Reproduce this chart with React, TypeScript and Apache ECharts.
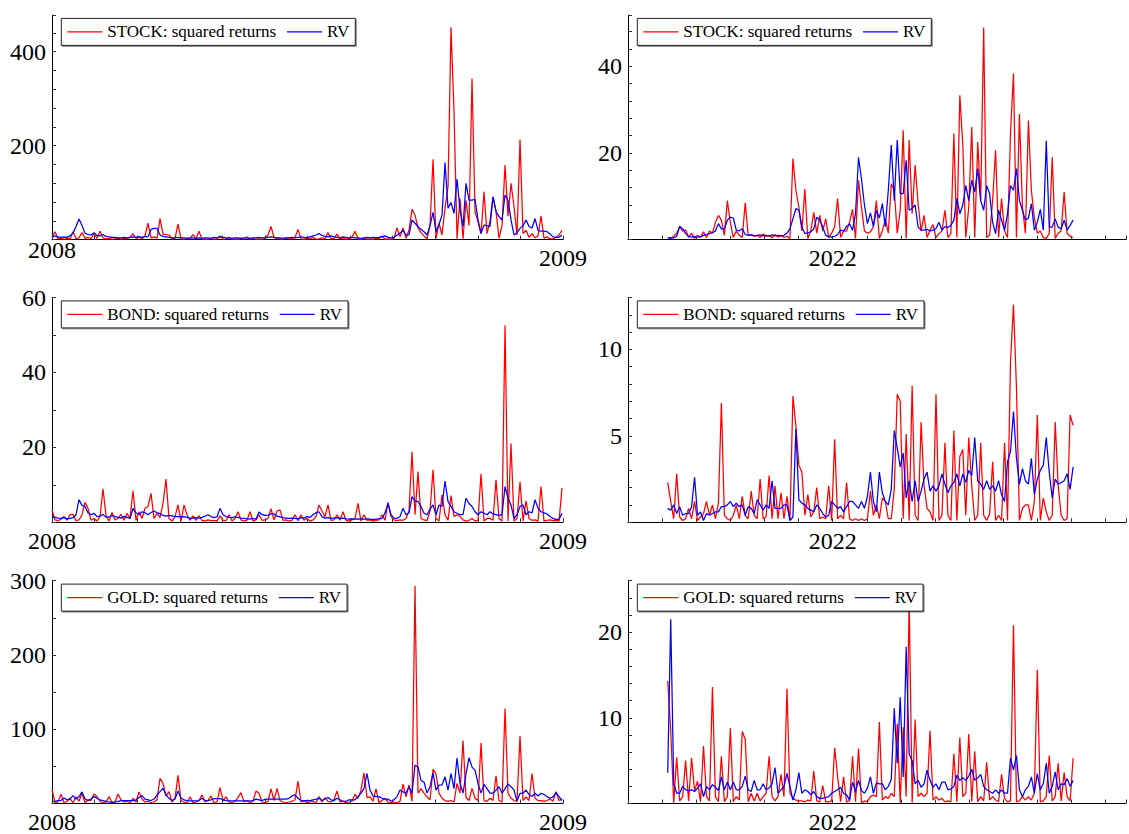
import React, { useEffect, useRef } from "react";
import * as echarts from "echarts";

// ---------- DATA ----------
// 2008 panels: trading year Jan-2008 .. Dec-2008 (sampled)
const stock2008Sq = [5,17,2,4,1,3,2,17,2,4,15,3,5,2,13,3,18,4,2,3,1,2,4,1,3,2,5,13,3,6,2,8,35,4,6,3,45,12,11,10,2,3,33,2,1,3,2,11,2,18,1,2,1,3,1,2,8,1,2,5,1,2,1,3,1,6,1,3,1,2,1,3,10,28,5,3,2,1,4,2,3,5,22,2,1,3,2,5,1,2,4,2,15,2,3,12,2,4,1,3,5,18,2,1,3,1,2,1,3,2,8,1,2,1,3,25,6,25,3,20,65,52,25,15,8,2,30,171,3,35,10,67,113,452,272,2,88,2,84,30,343,60,38,13,102,13,40,91,60,3,30,159,50,120,70,10,213,13,20,5,13,4,8,50,3,6,2,2,5,10,20];
const stock2008RV = [5,8,6,5,6,5,8,14,28,44,30,14,11,10,15,9,8,11,7,6,5,5,4,4,5,4,5,6,5,6,5,7,6,22,24,24,10,7,6,5,4,4,5,4,4,3,4,4,3,4,3,4,4,3,5,4,6,5,4,4,3,4,4,3,4,4,3,4,4,5,4,4,5,6,5,4,4,3,4,4,5,4,5,6,5,4,6,8,10,13,9,7,6,8,6,5,4,6,5,4,5,4,4,3,4,5,4,5,4,5,6,8,5,4,5,10,14,20,10,10,42,35,28,22,17,10,30,58,17,33,52,164,67,79,56,129,63,28,120,84,84,86,42,13,31,30,28,91,60,49,42,95,84,42,10,15,24,30,42,28,25,45,20,18,18,17,12,6,5,5,10];
const bond2008Sq = [3.3,0.6,0.4,0.8,1.5,0.5,2,2.1,0.4,0.6,2,5.3,3.7,0.5,1,0.3,1.5,8.9,1.8,0.3,2.6,0.6,1,2.1,0.5,2.4,1,8.4,0.5,2.8,1,3.7,4.2,7.7,1,2.4,1.2,5,11.5,1,0.3,1.5,4.6,0.3,4.6,2,0.5,1.7,0.5,1.8,0.5,0.3,0.6,0.4,0.5,0.3,1.7,0.5,0.4,2,0.3,1,2.8,0.6,0.3,0.5,2.8,0.3,0.6,2,0.5,0.6,1,3.6,0.6,3,3.3,0.5,0.6,0.3,0.5,2,0.4,2,0.5,1,0.3,0.6,1.5,4.6,3,1.5,4.6,0.5,0.6,2,0.5,2.8,0.5,0.3,0.6,1,5,0.3,2,0.5,0.6,0.3,0.5,0.6,2,0.5,5.3,1.5,0.6,0.4,0.6,0.5,1,3,18.8,2,13.5,1,0.6,0.4,3,14,1,0.3,7.3,2,0.5,7.1,1.5,2,1.5,0.6,0.3,0.5,1,0.3,0.5,12.9,0.3,1,1,0.5,11.3,1,0.3,52.6,0.3,21,0.3,1,10.8,0.3,5.7,1,0.5,0.6,0.3,9.5,0.3,0.5,0.6,0.4,0.5,0.3,9.1];
const bond2008RV = [1.5,1.3,1.1,1,1.2,0.9,1,1.2,2,6,4.5,4.2,2.5,2,2.4,1.5,1.6,2.1,1.3,1.4,1.8,1.5,1.3,1.1,1.5,1.3,1,3.7,2.5,2,2.8,2.5,2,2.6,3,2.5,2.3,1.8,1.6,1.8,1.7,1.5,1.5,1.4,1.5,1.3,1.1,1.1,1.2,1.1,1.3,1.6,2,1.5,1.2,1.4,3.7,2,1.5,1.3,1.2,1.4,1.3,1.1,1,0.9,0.8,1,0.8,2.7,2,1.8,1.9,2.2,2.2,1.6,1.4,1.2,1.1,1,1.1,1,0.9,1.2,1.1,1.5,1.3,2,2.5,2.8,1.5,1.1,1.2,1,1.1,1.2,1,1.1,0.9,0.8,0.9,0.8,0.9,0.8,0.8,0.9,0.8,0.7,0.8,0.9,1,2.5,5,2,1.1,1,1.5,3.7,2,2.5,6.8,5.7,5.5,4.2,2.4,2,3.5,4.6,2,4.6,4.2,11,5.5,4.2,2.8,2.4,2,2,6.4,5,4.2,2.8,2,2.8,2.4,2,2.8,2.2,2,1.8,2,9.5,6.4,4.6,1,2,4.2,4.6,2,2.8,2.5,6,3.7,2.8,2.5,2.2,1.5,1,0.7,0.8,2.4];
const gold2008Sq = [19,1,2,12.4,1,3,7,1,9,3,13.8,1,5,4,12.9,9,3,1,2,9.3,1,2,12.9,5,2,3,1,7,2,15.6,6,2,3,1,2,5,33.8,27,10,16,2,7,37.8,4,2,1,9,1,2,4,11.6,2,4,10.2,1,2,21.3,4,9,2,1,3,8,14.7,2,4,1,3,16.9,13.8,2,1,3,19.6,4,20.4,4,2,1,2,3,5,30,2,3,1,2,3,1,9.3,2,8,3,2,5,16.9,2,3,1,2,3,12.4,7,18,41.3,8,9,3,19.6,1,4,7,2,1,2,1,3,26.2,9,24.9,3,293,14,20,14,9,5,46.2,39.6,14,7,4,3,4,2,27,14,84.9,8,4,20.4,7,4,81.3,4,3,7,4,37.3,4,2,128,14,7,4,3,90.7,4,9,4,40.4,7,4,4,3,4,6,3,16,4,6];
const gold2008RV = [2.7,3,4,4,7.5,5,6,10.7,6,9,15.6,6,4,6,9.3,7,5,4,3,2,2,2,3,4,4,4,4,4,5,8,10.7,6,5,4,6,11.6,16,20.4,11.6,7,4,6,16.9,7,5,4,3.5,3.5,3.5,4,7,4,4,5,6.5,6.5,6.5,5,4,3.5,3.5,3.5,3.5,3.5,3.5,3.5,3.5,4,5.8,5,4,5.5,5.8,5.8,5.8,5.8,5.8,5.8,5.8,7,10.2,11.6,7,4,4,4,4,5,5.8,7,4,6,8,5,4,7,5,3,3,5,5,5,9.3,14,20.4,40.4,18,10,9.3,9.3,7,6,6,3,5,9.3,18.2,15.6,13.8,22.7,13.8,51.6,49.3,31,29,14,22.7,41.3,18,24.9,25,36,18,40.4,20,61.3,27,14,40,61.8,49,45,27,14,25.8,20,14,14,18,22.7,14,20,26.2,22.7,18,3.5,13.8,13.8,18.2,12,9.3,13.8,10,13.8,12,9.3,7,9,14.7,9.3,4];

// 2022 panels: Aug-2021 .. Jul-2022 (sampled)
const stock2022Sq = [0.5,0.3,0.8,1.5,3,2,2.3,0.5,1.5,0.3,1,0.5,1.8,0.5,2,1.5,4,5.6,4.5,1,9,4,0.5,2,1,0.5,8.5,1,1.2,0.8,1,0.5,1.3,0.8,1,0.4,1.2,0.6,1,0.5,0.8,0.3,18.7,11.4,7.5,2,11.7,0.3,2,6.3,1.5,5.6,2,4.8,0.5,1.5,3,9.5,0.5,2,2,4,7,0.3,13.7,7.5,2,1.5,1.8,3,9,0.3,2,4.8,1.5,12.9,11.4,1.5,6.8,25.2,0.3,23,6,17.2,8.3,2,5.6,0.5,2.2,3.5,0.5,1.4,2,6.8,0.5,1.4,24.5,0.5,33.3,21.8,0.5,7.5,26,0.5,22.5,9,48.9,0.5,1,9,20.6,0.5,9.5,2,0.5,24.5,38.3,0.5,29,7.5,1.5,27.5,11.4,5,1.5,2,0.5,0.3,1.5,19,0.3,1.5,2,11,1.5,0.8,0.5];
const stock2022RV = [0.4,0.5,0.4,0.8,3.1,2.5,1.4,0.8,0.6,0.7,0.6,0.7,1,1.2,1.4,1.6,2,3.7,2.5,2.5,4.5,5.2,5,2.2,2,2.5,1.2,1,1.1,0.9,1,1.1,0.9,1,0.8,1.1,0.9,1,0.9,1,1.5,2.5,4.8,7.2,6.8,3,1.4,1.6,1.8,2.5,5.2,4.5,3,1,0.7,0.6,0.8,1.2,2.2,2,3,3.7,2.2,6,19,14,8,3.7,6.2,3,6.8,5,8.3,3,11.4,21.8,9,23,10.6,10.6,18.3,6.8,7.2,8,2.9,2.2,2.2,2.4,2,2.2,2.6,4,2.2,3,2.8,3.3,4.5,9.5,6,8,12.5,9,13.7,11,16.4,9,6.8,12.5,10.6,4,1.4,6.8,4.5,2.2,6,12.5,11.4,16.4,9,6.8,4.5,5,8.3,2.2,4,7,2.2,22.8,2.9,2.9,4.8,2.9,2.5,4.5,2.2,3.3,4.5];
const bond2022Sq = [2.3,1.2,0.2,2.8,0.3,0.1,0.2,0.8,0.2,1.2,0.1,0.3,0.5,1.2,0.4,1,0.2,1.1,6.9,0.4,0.2,0.1,0.4,1,0.2,1.5,0.4,0.2,1.8,0.4,0.2,2.5,0.2,0.3,2.7,0.2,2.1,0.2,1.7,0.2,1.5,0.1,7.3,5.6,3.3,2.9,0.4,1.6,0.3,0.6,2,0.2,0.3,0.2,2.1,0.1,4.8,0.2,0.4,0.2,2.3,0.2,0.1,0.2,0.1,0.2,0.1,0.2,1.8,0.4,1,0.2,1.4,1.2,0.2,0.2,1.9,7.4,7,0.2,5.1,0.1,7.9,0.4,0.1,5.8,2.1,0.8,0.6,0.1,7.4,0.1,0.4,4.6,0.4,0.1,5.3,0.1,3.8,4.2,0.4,4.9,2.1,0.1,0.4,4.6,0.4,0.1,0.5,3.5,0.1,0.4,0.1,4.6,0.1,9.3,12.6,7.8,0.1,0.8,1,1,0.1,1.2,6.2,0.1,1.4,0.6,0.1,0.4,5.8,2.1,0.4,0.1,0.2,6.2,5.6];
const bond2022RV = [0.8,0.7,1,0.5,0.9,0.4,0.5,0.5,0.9,2.6,0.4,0.6,0.1,0.5,0.4,0.5,0.6,0.6,0.9,0.9,1,1.2,0.9,1.1,0.9,1,0.4,0.9,0.8,0.5,1.3,1,0.7,1,0.8,2.4,0.8,0.8,0.8,1,1,0.1,0.3,5.4,1.3,1.1,1,0.8,0.7,0.6,1,0.8,0.5,0.3,0.4,1.2,1,0.8,0.9,0.6,0.9,1.2,1.2,1,0.8,1.2,0.8,1.5,2.9,1.2,0.6,2.9,1.7,1.2,1,1.9,5.3,4.3,3.2,4,1.4,2.4,1.2,2.4,1.2,1.8,2.5,2.9,1.8,2.1,1.8,2.1,2.8,2.2,1.7,2.1,2.3,2.8,2.1,2.8,2.3,3,2.7,4.9,2.4,2.2,1.9,2.4,1.9,2.1,1.8,2.4,1.6,1.2,3.5,4.1,6.4,3.7,2.2,3.1,2.4,2.2,3.7,1.6,2.5,3,3.3,4.9,2.9,1.4,2.5,2.2,2.3,2.4,2.8,1.9,3.2];
const gold2022Sq = [14.3,8.5,0.1,5.4,0.3,0.8,5,0.3,5.3,1.5,2.6,0.2,6.7,0.8,0.3,13.6,0.8,0.2,5.5,0.2,0.8,8.8,0.2,0.8,0.4,8.4,7.5,0.2,1.2,0.3,1.2,0.3,0.8,1.2,5.5,0.8,0.3,0.8,3.4,0.8,13.4,1.2,0.6,0.4,0.3,0.3,0.2,0.4,0.3,3.8,0.3,0.2,2.1,0.2,0.2,0.3,6.5,3.1,0.2,3.1,0.2,0.3,5.5,0.2,6.4,0.1,0.3,0.2,0.8,1,0.8,9.5,0.4,0.8,0.6,1.2,0.8,9.3,0.1,8.9,0.8,23.9,0.1,9.8,0.8,1.2,0.8,1.2,8.5,0.4,0.8,0.4,0.6,0.2,0.3,0.2,5.8,0.2,7.7,0.8,1.2,8.1,0.2,6.1,0.2,0.8,0.3,4.8,0.4,0.8,0.4,0.2,3.4,0.6,0.2,0.3,20.8,0.2,0.3,0.8,0.4,0.8,0.4,1.2,15.6,0.2,0.3,0.8,5.6,0.3,0.8,4.7,0.3,3.6,0.8,0.3,5.3];
const gold2022RV = [3.6,21.5,2.3,1.2,1.2,2,1.6,1.5,1.6,1.4,1.8,2.3,0.8,2,1.6,2.2,1.9,1.5,3.1,1.6,2.5,1.6,2.5,1.6,1.6,2,3.2,1.6,1.4,2.7,1.6,1.6,2.3,1.6,1.8,2.3,4.2,1.2,1.6,2,3.5,2,0.4,1.6,3.6,1.2,1.6,1.4,1,1.4,0.8,0.6,0.6,0.7,0.8,1.2,1.4,1.6,1.9,1.2,1,0.4,2.5,1.4,2.7,1.5,1.2,1.8,3.1,1.2,2.4,2.3,2.3,1.6,2,2.8,11.1,4.7,12.4,3.1,18.3,5.8,5,2.3,2.7,1.9,2.3,3.9,2.7,1.9,2.3,1.6,2.5,2.5,1.6,1.7,2,3.3,2.7,3,2.7,3.2,4,2.7,3,3.4,2,1.6,1.4,1.2,1.6,1.2,1.6,1.2,1.2,5.3,3.9,5.6,1.6,0.8,1.6,2,3.1,1.2,3.5,1.6,2.3,4.7,1.2,2,3.7,1.6,2.3,2.2,2.9,2,2.7];

// Axis tick labels
const yearLabels2008 = ["2008", "2009"];
const yearLabel2022 = "2022";
const assets = ["STOCK", "BOND", "GOLD"];
const rvName = "RV";

// ---------- LAYOUT ----------
const FONT = "Liberation Serif";
const COL_LEFT = [52, 628];
const COL_WIDTH = [511, 501];
const ROW_TOP = [15, 297.5, 580.7];
const ROW_H = 224.7;
// x positions in months relative to January of the label year
const LEFT_X = { min: 0, max: 12, start: 0, end: 11.977 };
const RIGHT_X = { min: -6, max: 8.6, start: -4.835, end: 7.049 };

type Panel = {
  asset: string;
  red: number[];
  blue: number[];
  col: number;
  row: number;
  yMax: number;
  step: number;
  major: number;
};

const panels: Panel[] = [
  { asset: assets[0], red: stock2008Sq, blue: stock2008RV, col: 0, row: 0, yMax: 478, step: 40, major: 200 },
  { asset: assets[0], red: stock2022Sq, blue: stock2022RV, col: 1, row: 0, yMax: 51.8, step: 4, major: 20 },
  { asset: assets[1], red: bond2008Sq, blue: bond2008RV, col: 0, row: 1, yMax: 60, step: 10, major: 20 },
  { asset: assets[1], red: bond2022Sq, blue: bond2022RV, col: 1, row: 1, yMax: 13, step: 1, major: 5 },
  { asset: assets[2], red: gold2008Sq, blue: gold2008RV, col: 0, row: 2, yMax: 300, step: 50, major: 100 },
  { asset: assets[2], red: gold2022Sq, blue: gold2022RV, col: 1, row: 2, yMax: 26, step: 2, major: 10 },
];

function toPairs(vals: number[], start: number, end: number) {
  const n = vals.length;
  return vals.map((v, i) => [start + (i * (end - start)) / (n - 1), v]);
}

function buildOption() {
  const grid: any[] = [];
  const xAxis: any[] = [];
  const yAxis: any[] = [];
  const series: any[] = [];
  const legend: any[] = [];

  panels.forEach((p, k) => {
    const left = COL_LEFT[p.col];
    const top = ROW_TOP[p.row];
    const xr = p.col === 0 ? LEFT_X : RIGHT_X;
    grid.push({ left, top, width: COL_WIDTH[p.col], height: ROW_H, containLabel: false });
    xAxis.push({
      type: "value",
      gridIndex: k,
      min: xr.min,
      max: xr.max,
      interval: 1,
      axisLine: { show: true, onZero: false, lineStyle: { color: "#000", width: 1 } },
      axisTick: { show: true, inside: true, length: 4, lineStyle: { color: "#333", width: 1 } },
      splitLine: { show: false },
      axisLabel: {
        show: true,
        margin: 6.5,
        color: "#000",
        fontFamily: FONT,
        fontWeight: "normal",
        fontSize: 24,
        showMinLabel: true,
        showMaxLabel: true,
        rich: {
          up: { fontFamily: FONT, fontSize: 24, color: "#000", lineHeight: 8 },
        },
        formatter: (v: number) => {
          if (p.col === 0) {
            if (v === 0) return p.row === 0 ? `{up|${yearLabels2008[0]}}` : yearLabels2008[0];
            if (v === 12) return yearLabels2008[1];
            return "";
          }
          return v === 0 ? yearLabel2022 : "";
        },
      },
    });
    yAxis.push({
      type: "value",
      gridIndex: k,
      min: 0,
      max: p.yMax,
      interval: p.step,
      axisLine: { show: true, onZero: false, lineStyle: { color: "#000", width: 1 } },
      axisTick: { show: true, inside: true, length: 4, lineStyle: { color: "#333", width: 1 } },
      splitLine: { show: false },
      axisLabel: {
        show: true,
        margin: 6,
        color: "#000",
        fontFamily: FONT,
        fontWeight: "normal",
        fontSize: 24,
        formatter: (v: number) => {
          if (v <= 0) return "";
          const r = v / p.major;
          return Math.abs(r - Math.round(r)) < 1e-6 ? String(Math.round(v)) : "";
        },
      },
    });
    const redName = `${p.asset}: squared returns`;
    series.push({
      type: "line",
      name: redName,
      xAxisIndex: k,
      yAxisIndex: k,
      data: toPairs(p.red, xr.start, xr.end),
      symbol: "none",
      lineStyle: { color: "#ff0000", width: 1.25 },
      itemStyle: { color: "#ff0000" },
      z: 2,
    });
    series.push({
      type: "line",
      name: rvName,
      xAxisIndex: k,
      yAxisIndex: k,
      data: toPairs(p.blue, xr.start, xr.end),
      symbol: "none",
      lineStyle: { color: "#0000ff", width: 1.25 },
      itemStyle: { color: "#0000ff" },
      z: 3,
    });
    legend.push({
      show: true,
      left: left + 9.3,
      top: top + 3.4,
      orient: "horizontal",
      data: [redName, rvName],
      icon: "rect",
      itemWidth: 35,
      itemHeight: 1.3,
      itemGap: 11,
      padding: [5, 6, 5, 6],
      backgroundColor: "#fff",
      borderColor: "#222",
      borderWidth: 1,
      shadowColor: "rgba(0,0,0,0.45)",
      shadowOffsetX: 1,
      shadowOffsetY: 1,
      shadowBlur: 0,
      selectedMode: false,
      textStyle: { fontFamily: FONT, fontSize: 17, color: "#000", padding: [0, 0, 0, 0] },
    });
  });

  return {
    animation: false,
    backgroundColor: "#fff",
    textStyle: { fontFamily: FONT },
    grid,
    xAxis,
    yAxis,
    series,
    legend,
  };
}

export default function App() {
  const ref = useRef<HTMLDivElement>(null);
  useEffect(() => {
    if (!ref.current) return;
    const chart = echarts.init(ref.current, undefined, { renderer: "svg" });
    chart.setOption(buildOption() as any);
    return () => chart.dispose();
  }, []);
  return (
    <div
      ref={ref}
      style={{ position: "absolute", left: 0, top: 0, width: 1129, height: 834, background: "#fff" }}
    />
  );
}
